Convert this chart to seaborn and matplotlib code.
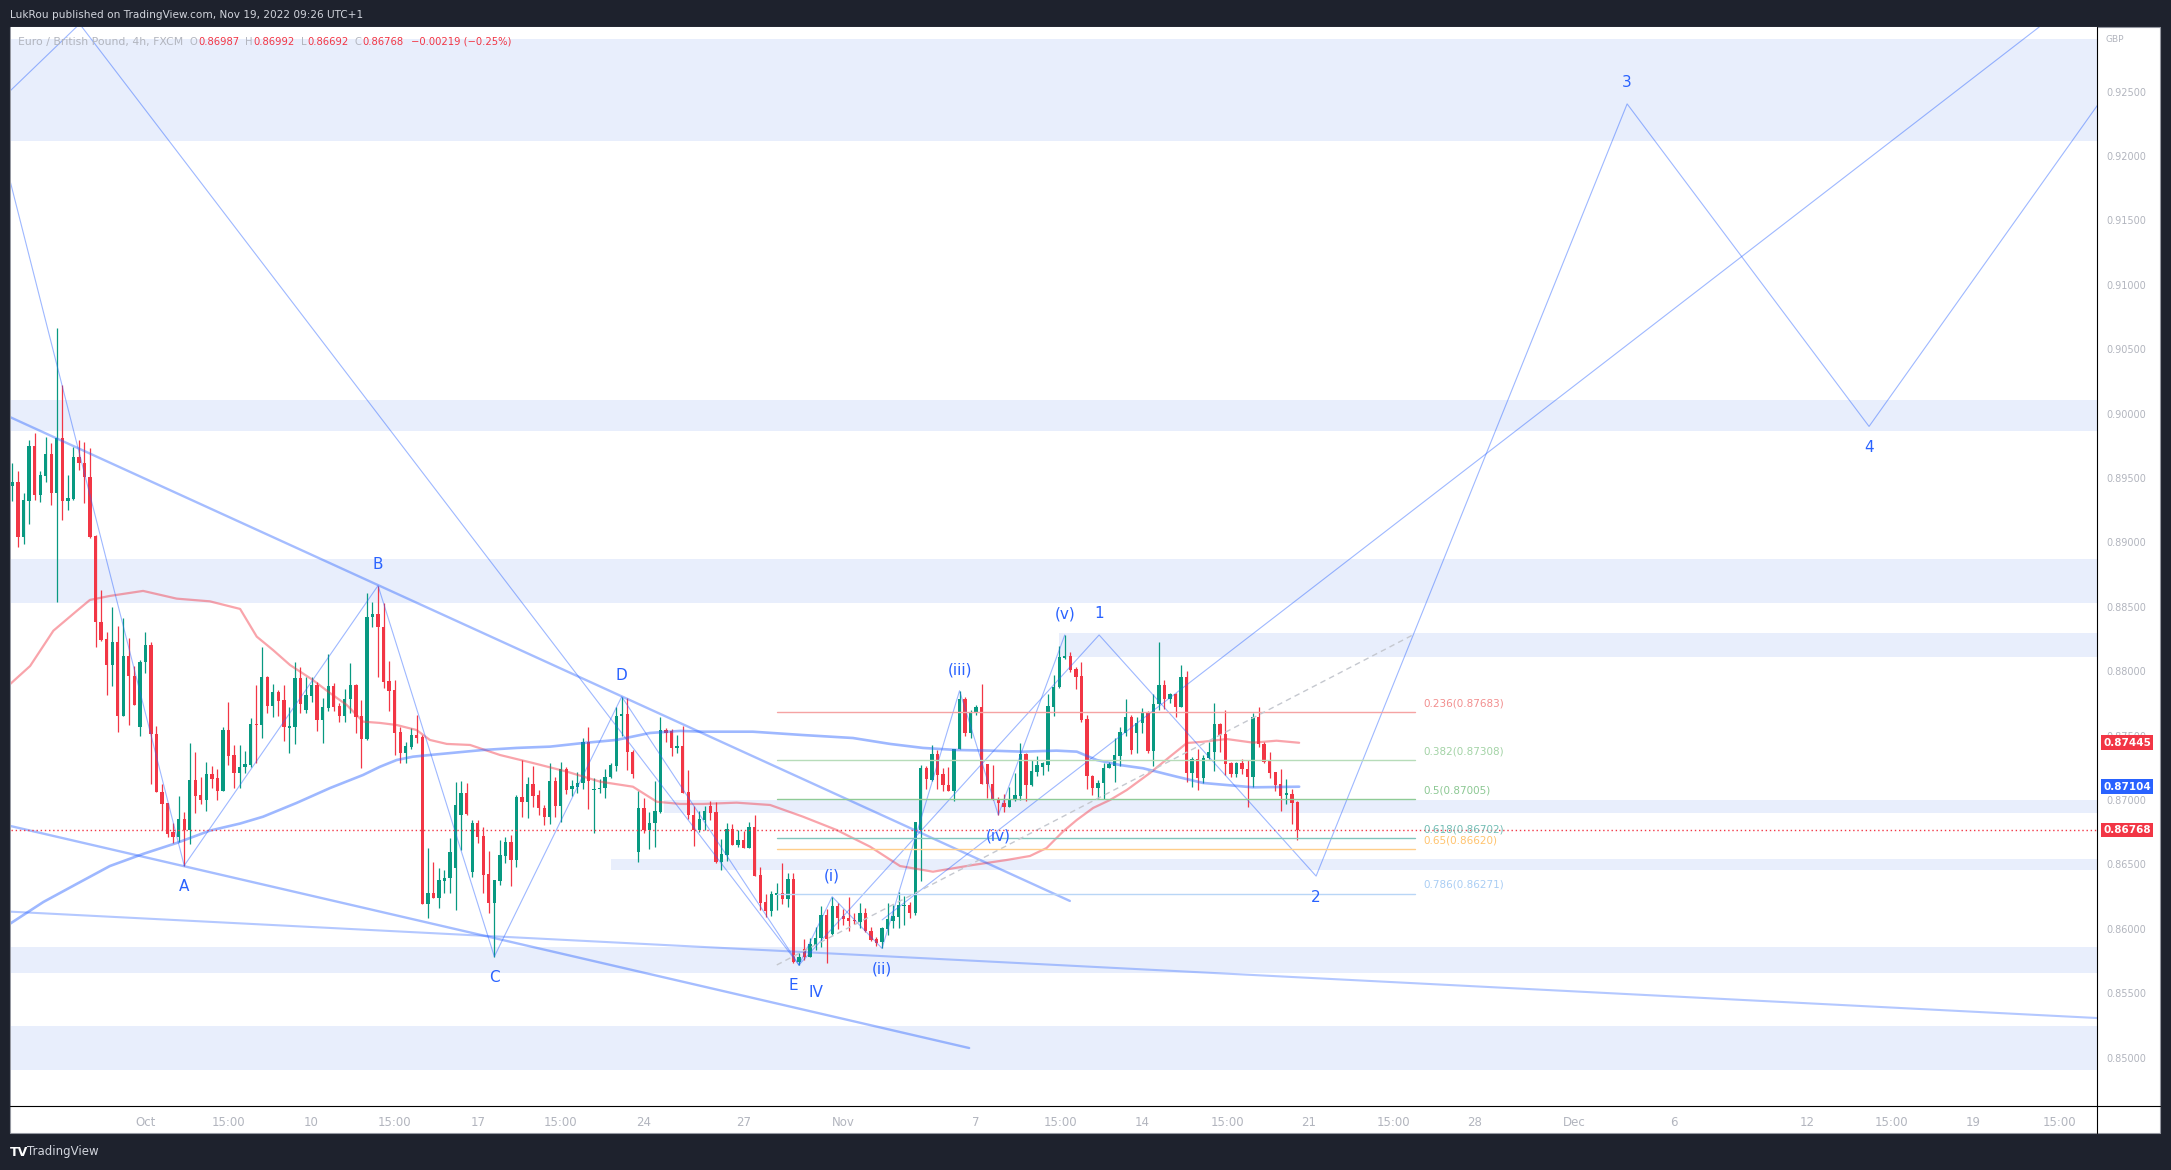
import numpy as np
import matplotlib
matplotlib.use("Agg")
import matplotlib.pyplot as plt
from matplotlib.lines import Line2D
from matplotlib.patches import Rectangle
import seaborn as sns

# EUR/GBP 4h - velas (27 set -> 18 nov 2022)
opens = [.89441, .89467, .89045, .89325, .89749, .89369, .89519, .89687, .89387, .89811,
         .89325, .89338, .89664, .89617, .89508, .8905, .88386, .88247, .88052, .88228,
         .87653, .88121, .87961, .87567, .88072, .88204, .87513, .87063, .86978, .86749,
         .86714, .86853, .86768, .87156, .87039, .87001, .87203, .87172, .87073, .87544,
         .8735, .87213, .87257, .87272, .8759, .87583, .87958, .87733, .87839, .87777,
         .87562, .87569, .87951, .877, .87811, .87893, .87622, .87715, .87886, .87733,
         .87653, .87785, .87893, .87653, .87474, .88419, .88445, .88342, .87924, .87854,
         .87531, .87368, .87415, .87505, .87492, .86191, .86279, .86242, .86374, .86395,
         .86473, .86884, .87055, .86444, .86822, .86721, .86426, .86203, .86374, .86568,
         .86675, .86535, .87026, .86987, .87125, .87039, .86941, .86871, .87148, .86954,
         .87242, .87084, .87104, .87133, .87451, .87078, .87086, .87094, .87179, .87265,
         .8765, .87671, .87376, .866, .86941, .86768, .86822, .8691, .87544, .87537,
         .87405, .8742, .87063, .86884, .86768, .86846, .86954, .86908, .86522, .86574,
         .86776, .86652, .8669, .8663, .86794, .86418, .86211, .86141, .86263, .86281,
         .8623, .86388, .85746, .85844, .85785, .85876, .8593, .86108, .8596, .8618,
         .86098, .86085, .86069, .86056, .86123, .85986, .85921, .859, .85996, .86062,
         .86093, .86175, .86186, .86126, .86768, .87251, .87156, .87358, .87203, .87117,
         .87073, .87397, .87785, .87521, .87675, .87721, .87284, .87125, .87006, .8698,
         .86949, .87001, .87032, .87358, .87117, .8722, .87259, .87272, .87725, .87876,
         .88101, .88119, .88015, .87963, .87627, .8719, .87092, .8713, .87247, .87267,
         .87345, .87523, .87647, .87521, .87599, .87676, .87383, .87746, .87893, .87785,
         .87824, .87725, .87954, .87213, .87317, .8717, .87325, .87376, .8759, .87513,
         .87285, .87203, .87285, .87238, .87182, .87647, .87435, .87303, .87216, .87125,
         .87039, .87047, .86987]
highs = [.89617, .89555, .89387, .89796, .8985, .89555, .89821, .89772, .90665, .90222,
         .89524, .89744, .89796, .89782, .89734, .89058, .88632, .88302, .88496, .88352,
         .88414, .88259, .88041, .88088, .88302, .88228, .87575, .87125, .86978, .86822,
         .87034, .86908, .87443, .87373, .87179, .87296, .87267, .87242, .87567, .87761,
         .87428, .87428, .87384, .87637, .87891, .88191, .87966, .87901, .87854, .87893,
         .87722, .88072, .88033, .87958, .87958, .87919, .87793, .88134, .87909, .87754,
         .87862, .88067, .87901, .87777, .88608, .8854, .88665, .8853, .88083, .87932,
         .87567, .87454, .8756, .87661, .87505, .86628, .86522, .86473, .86458, .86706,
         .87143, .87148, .87133, .86846, .86846, .86794, .86605, .8638, .8669, .86714,
         .86729, .87039, .87311, .87181, .87265, .87078, .86962, .87288, .87181, .87296,
         .87257, .87156, .8722, .87482, .87567, .87172, .87164, .87242, .8729, .87726,
         .87803, .87793, .87389, .87071, .87016, .86908, .87148, .87647, .8756, .87552,
         .87505, .87575, .87234, .86954, .86915, .86954, .86995, .86987, .86698, .86822,
         .86815, .86768, .86763, .86832, .86884, .86483, .86271, .86297, .86357, .86512,
         .86434, .86437, .85815, .85921, .85932, .86018, .86178, .86155, .8625, .86201,
         .86155, .86248, .86126, .86203, .86162, .86018, .8594, .86018, .86203, .86186,
         .8629, .86258, .86211, .86832, .87272, .87267, .87428, .87389, .87247, .87259,
         .87397, .87849, .87803, .877, .87739, .87901, .87284, .87272, .87026, .87045,
         .87104, .87208, .87446, .87363, .87311, .87343, .87298, .87824, .87971, .88196,
         .88282, .88153, .88036, .88075, .87661, .87195, .87156, .87285, .87298, .87484,
         .8757, .87782, .87661, .87647, .87715, .87689, .87824, .88225, .87932, .87834,
         .87829, .88049, .88005, .87337, .87393, .8735, .87454, .8775, .876, .877,
         .87298, .87298, .87317, .87311, .87679, .87726, .87454, .87376, .87221, .87241,
         .8716, .87083, .86992]
lows = [.89325, .88968, .88989, .89144, .8933, .89317, .89472, .89291, .88541, .89175,
        .89252, .8933, .89563, .8931, .89035, .88191, .88238, .87816, .87886, .87525,
        .87653, .87583, .87741, .87498, .87983, .87125, .87063, .86768, .86714, .86667,
        .86675, .86491, .86659, .869, .8697, .86915, .87094, .87001, .87071, .87276,
        .87094, .87094, .8721, .87257, .87288, .87482, .87679, .87648, .87656, .87459,
        .87366, .87435, .87676, .87676, .87762, .87537, .87446, .87694, .87694, .87608,
        .87608, .87676, .87521, .87251, .87466, .88346, .87958, .8787, .87694, .8735,
        .8729, .8729, .87397, .87441, .8619, .86082, .86242, .86164, .86279, .86279,
        .86147, .86613, .86884, .86405, .86667, .86279, .86126, .85785, .8634, .86512,
        .86333, .86483, .86871, .86861, .86948, .86884, .86807, .86815, .86871, .86832,
        .87047, .87032, .87055, .87086, .86931, .86745, .87052, .87016, .87172, .87228,
        .87498, .87234, .87172, .86522, .86747, .86621, .86639, .869, .87454, .87343,
        .87366, .87058, .86853, .86646, .86755, .86768, .86846, .86514, .86458, .8653,
        .86652, .86639, .86625, .86625, .86413, .86147, .8609, .861, .86147, .86193,
        .8617, .85738, .85723, .85759, .85782, .85836, .85861, .85738, .85952, .85999,
        .86034, .85986, .86041, .86008, .85978, .85909, .85867, .85849, .85952, .86008,
        .86008, .86034, .86085, .86108, .86374, .87083, .8715, .87083, .87073, .87073,
        .86995, .87397, .87495, .87482, .87661, .87123, .87014, .87001, .86884, .8691,
        .86944, .86995, .87001, .86995, .87112, .87187, .87195, .87228, .87653, .87868,
        .88093, .87997, .87861, .87608, .87083, .87039, .87006, .87006, .87247, .87143,
        .87265, .87495, .87358, .87363, .87521, .87368, .87265, .877, .87707, .87754,
        .87647, .87721, .87143, .87099, .87078, .8713, .87317, .87228, .87376, .87195,
        .87177, .87182, .87203, .86949, .87099, .87415, .8729, .8717, .87073, .86918,
        .8697, .86815, .86692]
closes = [.89472, .89045, .8933, .89749, .89369, .89524, .89687, .89387, .8981, .89325,
          .89346, .89664, .89617, .89508, .89045, .88385, .88244, .88052, .88228, .87653,
          .88121, .87961, .87741, .88072, .88204, .87513, .87063, .8697, .8674, .86714,
          .86853, .86768, .87156, .87034, .87001, .87203, .87164, .87073, .87544, .87345,
          .87213, .87257, .8728, .8759, .87583, .87958, .87733, .87839, .87772, .87567,
          .87575, .87951, .87746, .87816, .87893, .87622, .87725, .87886, .87725, .87653,
          .87785, .87893, .87647, .87474, .88421, .88445, .88342, .87919, .87849, .87523,
          .87368, .8742, .87505, .87484, .8619, .86279, .86242, .8638, .86395, .86597,
          .86962, .87055, .86892, .86822, .86716, .86418, .86203, .8638, .86574, .86675,
          .86535, .87026, .86987, .87125, .87034, .86939, .86871, .87148, .86954, .87242,
          .87078, .8711, .87135, .87451, .87151, .87086, .87096, .87181, .87272, .87656,
          .87671, .87376, .87203, .86941, .86768, .86822, .86915, .87544, .87521, .87405,
          .8742, .87058, .86884, .86768, .86853, .86915, .86902, .86522, .86582, .86776,
          .86652, .8669, .8663, .86794, .86413, .86203, .86141, .86271, .86281, .8623,
          .86388, .85746, .85782, .85782, .85883, .8593, .86108, .85921, .8618, .86085,
          .86077, .86061, .86064, .86123, .85986, .85914, .85893, .86006, .86075, .86098,
          .86186, .86186, .86126, .86832, .87251, .87161, .87358, .87195, .87117, .87073,
          .87397, .87785, .87521, .87679, .87721, .87123, .87123, .87006, .86975, .86949,
          .87006, .87039, .87358, .87117, .87226, .87272, .87285, .87731, .87876, .88109,
          .88119, .8801, .87958, .87622, .8719, .87092, .87135, .87247, .8728, .8735,
          .87531, .87647, .87389, .87599, .87676, .87383, .87746, .87893, .87785, .87824,
          .87725, .87954, .87213, .87317, .8717, .87325, .87376, .8759, .87505, .8728,
          .87203, .8729, .87238, .87182, .87647, .87435, .87298, .87213, .87117, .87034,
          .87052, .8698, .86768]

# médias móveis: dia de pregão (0 = 3 out) e preço
ma_red_days = [-4.07, -3.47, -2.77, -2.07, -1.67, -1.07, -0.07, 0.94, 1.94, 2.85,
               3.35, 3.84, 4.35, 5.04, 5.55, 6.06, 6.55, 7.06, 7.56, 8.16,
               8.56, 9.07, 9.77, 10.67, 11.66, 12.68, 13.68, 14.67, 15.39, 16.09,
               16.78, 17.79, 18.8, 19.79, 20.8, 21.81, 22.71, 23.7, 24.9, 25.92,
               26.62, 27.12, 27.61, 28.03, 28.52, 29.03, 29.53, 30.23, 30.83, 31.34,
               31.83, 32.54, 33.33, 34.04, 34.72]
ma_red = [0.87901, 0.88041, 0.88315, 0.88468, 0.88554, 0.88585, 0.88624, 0.88564, 0.88543, 0.88484,
          0.88269, 0.88165, 0.88049, 0.87932, 0.87832, 0.87738, 0.87609, 0.87599, 0.87583, 0.87544,
          0.87467, 0.87436, 0.87428, 0.8735, 0.87288, 0.87221, 0.87143, 0.87104, 0.86987, 0.8697,
          0.8697, 0.8698, 0.86962, 0.86871, 0.86768, 0.86638, 0.86488, 0.86444, 0.86496, 0.86535,
          0.86566, 0.86628, 0.86755, 0.86846, 0.86939, 0.87001, 0.87078, 0.8721, 0.87337, 0.87443,
          0.87453, 0.87474, 0.87446, 0.87461, 0.87445]
ma_blue_days = [-4.07, -3.07, -2.07, -1.07, -0.07, 0.94, 1.94, 2.85, 3.54, 4.55,
                5.56, 6.55, 7.06, 7.56, 8.05, 8.56, 10.16, 11.17, 12.18, 13.17,
                14.18, 15.18, 16.09, 16.78, 18.28, 19.79, 21.29, 22.41, 23.4, 24.41,
                25.42, 26.41, 27.42, 28.03, 28.63, 29.33, 30.02, 31.03, 31.83, 32.54,
                33.33, 34.72]
ma_blue = [0.86041, 0.86209, 0.86349, 0.86488, 0.86582, 0.86667, 0.86763, 0.86818, 0.86871, 0.86978,
           0.87094, 0.87195, 0.87259, 0.87311, 0.87337, 0.8735, 0.87389, 0.87405, 0.87415, 0.87443,
           0.87467, 0.87521, 0.87537, 0.87531, 0.87531, 0.87505, 0.87482, 0.87436, 0.87405, 0.87389,
           0.87384, 0.87376, 0.87384, 0.87376, 0.87311, 0.87272, 0.87247, 0.87182, 0.87133, 0.87117,
           0.87099, 0.87104]

# zonas (retângulos)
band_lo = [0.92116, 0.89866, 0.88533, 0.88113, 0.86897, 0.86457, 0.85658, 0.84904]
band_hi = [0.92911, 0.90106, 0.88872, 0.88295, 0.87001, 0.86543, 0.85860, 0.85246]
band_start = [-6, -6, -6, 27.5, 15.6, 14.0, -6, -6]

# ondas
tri_labels = ["A", "B", "C", "D", "E"]
tri_days = [1.167, 7.0, 10.5, 14.333, 19.667]
tri_prices = [0.86491, 0.88665, 0.85785, 0.87803, 0.8572]
sub_labels = ["(i)", "(ii)", "(iii)", "(iv)", "(v)"]
sub_days = [20.667, 22.167, 24.5, 25.667, 27.667]
sub_prices = [0.8625, 0.85849, 0.87849, 0.86884, 0.88282]
proj_labels = ["1", "2", "3", "4"]
proj_days = [28.7, 35.23, 44.59, 51.87, 60.0]
proj_prices = [0.88282, 0.8641, 0.92405, 0.89901, 0.9285]

# linhas de tendência: (dia0, preço0, dia1, preço1)
thick_lines = [(-4.3, 0.9000, 27.82, 0.86217),
               (-4.3, 0.86813, 24.79, 0.85075)]
thin_long = [(-4.3, 0.86137, 58.73, 0.85308)]
thin_lines = [(-4.3, 0.92449, -1.98, 0.93026),
              (-1.98, 0.93026, 19.667, 0.8572),
              (-4.3, 0.92038, 1.167, 0.86491),
              (22.17, 0.8607, 57.07, 0.93018)]

# fibonacci
fib_levels = [0.236, 0.382, 0.5, 0.618, 0.65, 0.786]
fib_prices = [0.87683, 0.87308, 0.87005, 0.86702, 0.86620, 0.86271]
fib_colors = ["#f5a3a3", "#b7dcb9", "#8fcb96", "#80c4bc", "#ffce8a", "#b9d6f6"]
fib_text = ["#f28e8e", "#a3d3a6", "#8cc893", "#72bdb4", "#ffc36d", "#a9cdf4"]

y_ticks = [0.850, 0.855, 0.860, 0.865, 0.870, 0.875, 0.880, 0.885, 0.890,
           0.895, 0.900, 0.905, 0.910, 0.915, 0.920, 0.925]
x_ticks = [0, 2.5, 5, 7.5, 10, 12.5, 15, 18, 21, 25, 27.55, 30, 32.55, 35, 37.55,
           40, 43, 46, 50, 52.55, 55, 57.6]
x_labels = ["Oct", "15:00", "10", "15:00", "17", "15:00", "24", "27", "Nov", "7", "15:00",
            "14", "15:00", "21", "15:00", "28", "Dec", "6", "12", "15:00", "19", "15:00"]

sns.set_style("white")
plt.rcParams["font.family"] = ["DejaVu Sans"]

W, H = 2171, 1170
BLUE = "#2962ff"
GREEN = "#089981"
RED = "#f23645"
GRAY = "#b2b5be"
fig = plt.figure(figsize=(W / 100, H / 100), dpi=100, facecolor="#1e222d")
fig.add_artist(Rectangle((10 / W, 1 - 1133 / H), 2150 / W, 1106 / H, transform=fig.transFigure,
                         fc="white", ec="#9598a1", lw=0.8, zorder=-1))
ax = fig.add_axes([11 / W, 1 - 1106 / H, 2086 / W, 1079 / H])
ax.set_facecolor("white")
ax.set_xlim(-4.045, 58.73)
ax.set_ylim(0.84625, 0.93002)

# zonas
for lo, hi, st in zip(band_lo, band_hi, band_start):
    ax.fill_between([st, 62], lo, hi, color="#e8eefc", lw=0, zorder=1)

# velas
o = np.array(opens); h = np.array(highs); l = np.array(lows); c = np.array(closes)
x = -4.0 + np.arange(len(c)) / 6
cols = np.where(c >= o, GREEN, RED)
ax.vlines(x, l, h, colors=cols, lw=0.9, zorder=4)
body = np.maximum(np.abs(c - o), 0.00008)
ax.bar(x, body, bottom=np.minimum(o, c), width=0.1, color=cols, lw=0, zorder=5)

# médias
sns.lineplot(x=ma_red_days, y=ma_red, ax=ax, color=RED, alpha=0.45, lw=1.6,
             sort=False, estimator=None, legend=False, zorder=6)
sns.lineplot(x=ma_blue_days, y=ma_blue, ax=ax, color=BLUE, alpha=0.45, lw=1.9,
             sort=False, estimator=None, legend=False, zorder=6)

# linhas
for x0, y0, x1, y1 in thick_lines:
    ax.plot([x0, x1], [y0, y1], color=BLUE, alpha=0.42, lw=1.7, zorder=6)
for x0, y0, x1, y1 in thin_long:
    ax.plot([x0, x1], [y0, y1], color=BLUE, alpha=0.35, lw=1.5, zorder=6)
for x0, y0, x1, y1 in thin_lines:
    ax.plot([x0, x1], [y0, y1], color=BLUE, alpha=0.45, lw=0.8, zorder=6)

ax.plot(tri_days, tri_prices, color=BLUE, alpha=0.45, lw=0.8, zorder=6)
ax.plot([tri_days[-1]] + sub_days, [tri_prices[-1]] + sub_prices, color=BLUE, alpha=0.45, lw=0.8, zorder=6)
ax.plot([tri_days[-1]] + proj_days, [tri_prices[-1]] + proj_prices, color=BLUE, alpha=0.45, lw=0.8, zorder=6)

# rótulos das ondas
def rotulos(labels, days, prices, first_up, dy=21):
    for i, (lb, d, p) in enumerate(zip(labels, days, prices)):
        up = (i % 2 == 0) == first_up
        ax.annotate(lb, (d, p), xytext=(0, dy if up else -dy), textcoords="offset pixels",
                    ha="center", va="center", color=BLUE, fontsize=11, zorder=8)

rotulos(tri_labels[:-1], tri_days[:-1], tri_prices[:-1], False)
ax.annotate("E", (tri_days[-1], tri_prices[-1]), xytext=(-6, -21), textcoords="offset pixels",
            ha="center", va="center", color=BLUE, fontsize=11, zorder=8)
ax.annotate("IV", (tri_days[-1], tri_prices[-1]), xytext=(17, -28), textcoords="offset pixels",
            ha="center", va="center", color=BLUE, fontsize=11, zorder=8)
rotulos(sub_labels, sub_days, sub_prices, True)
rotulos(proj_labels, proj_days, proj_prices, True)

# fibonacci
for lv, pr, lc, tc in zip(fib_levels, fib_prices, fib_colors, fib_text):
    ax.plot([19.0, 38.2], [pr, pr], color=lc, lw=1, zorder=6)
    ax.annotate(f"{lv}({pr:.5f})", (38.45, pr), xytext=(0, 4), textcoords="offset pixels",
                ha="left", va="bottom", color=tc, fontsize=7.5, zorder=8)
ax.plot([19.0, 38.2], [0.8572, 0.8829], color="#c5c8cf", ls=(0, (4, 3)), lw=1, zorder=6)

# preço atual
ax.axhline(c[-1], color=RED, ls=(0, (1, 2)), lw=1, zorder=7)

# eixos
for s in ax.spines.values():
    s.set_visible(False)
ax.yaxis.tick_right()
ax.set_yticks(y_ticks)
ax.set_yticklabels([f"{v:.5f}" for v in y_ticks])
ax.tick_params(axis="y", length=0, pad=6.5, labelcolor=GRAY, labelsize=7)
ax.set_xticks(x_ticks)
ax.set_xticklabels(x_labels)
ax.tick_params(axis="x", length=0, pad=7, labelcolor=GRAY, labelsize=8.5)
for t in ax.get_xticklabels():
    t.set_family(["Liberation Sans Narrow", "DejaVu Sans"])
ax.set_xlabel("")
ax.set_ylabel("")

fig.add_artist(Line2D([2097 / W, 2097 / W], [1 - 27 / H, 1 - 1133 / H], color="black", lw=0.8, zorder=5))
fig.add_artist(Line2D([10 / W, 2160 / W], [1 - 1106 / H, 1 - 1106 / H], color="black", lw=0.8, zorder=5))

# etiquetas de preço
for val, col in [(ma_red[-1], RED), (ma_blue[-1], BLUE), (closes[-1], RED)]:
    ax.annotate(f"{val:.5f}", (1, val), xycoords=("axes fraction", "data"), xytext=(6, 0),
                textcoords="offset pixels", ha="left", va="center", color="white",
                fontsize=7.5, fontweight="bold", annotation_clip=False, zorder=9,
                bbox=dict(boxstyle="square,pad=0.22", fc=col, ec="none"))
ax.annotate("GBP", (1, 1), xycoords="axes fraction", xytext=(9, -13), textcoords="offset pixels",
            ha="left", va="center", color=GRAY, fontsize=6.5, annotation_clip=False)

# cabeçalho
fig.text(10 / W, 1 - 15 / H, "LukRou published on TradingView.com, Nov 19, 2022 09:26 UTC+1",
         color="#d1d4dc", fontsize=7.6, va="center", ha="left",
         family=["Liberation Sans Narrow", "DejaVu Sans"])
prev = fig.text(18 / W, 1 - 42 / H, "Euro / British Pound, 4h, FXCM", color=GRAY,
                fontsize=7.8, va="center", ha="left", zorder=9)
pieces = [("O", GRAY, 6), ("0.86987", RED, 1), ("H", GRAY, 6), ("0.86992", RED, 1),
          ("L", GRAY, 6), ("0.86692", RED, 1), ("C", GRAY, 6), ("0.86768", RED, 1),
          ("\u22120.00219 (\u22120.25%)", RED, 7)]
for txt, col, gap in pieces:
    prev = ax.annotate(txt, (1, 0.5), xycoords=prev, xytext=(gap, 0), textcoords="offset pixels",
                       ha="left", va="center", color=col, fontsize=7.2, annotation_clip=False,
                       zorder=9)

fig.text(10 / W, 1 - 1152 / H, "TV", color="white", fontsize=9, fontweight="bold",
         va="center", ha="left")
fig.text(27 / W, 1 - 1152 / H, "TradingView", color="#d1d4dc", fontsize=8.5, va="center",
         ha="left", family=["Liberation Sans Narrow", "DejaVu Sans"])

fig.savefig("out.png", dpi=100, facecolor=fig.get_facecolor())
